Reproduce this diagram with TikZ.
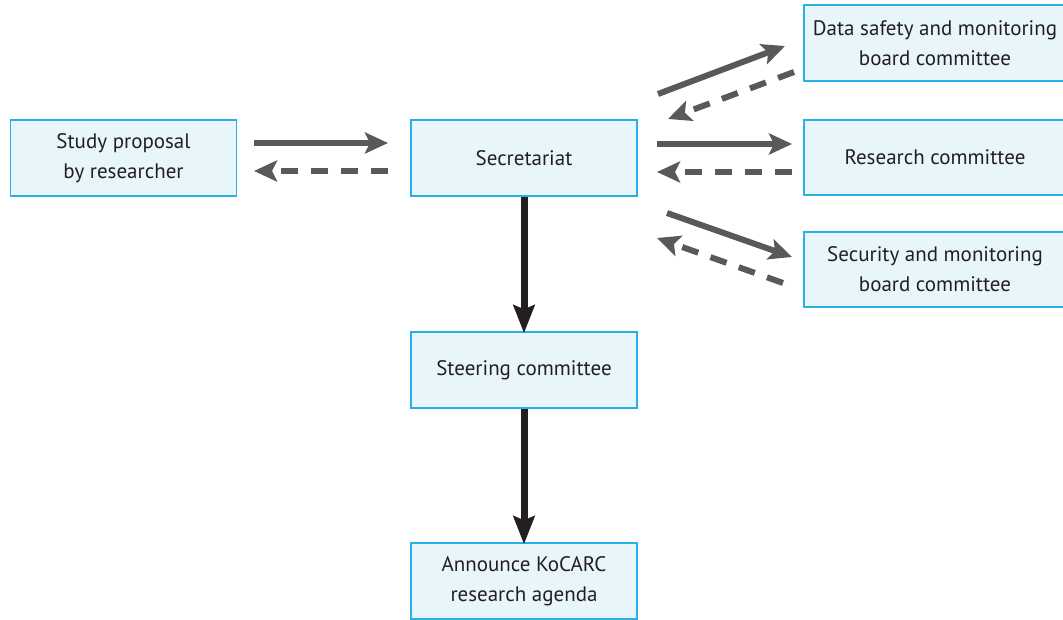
\documentclass[tikz,border=0pt]{standalone}
\usepackage{fontspec}
\setmainfont{PT Sans}
\usetikzlibrary{arrows.meta}
\definecolor{boxfill}{HTML}{E8F6FC}
\definecolor{boxline}{HTML}{29B0E6}
\definecolor{txt}{HTML}{231F20}
\definecolor{arrgray}{HTML}{58595B}
\definecolor{arrdark}{HTML}{231F20}
\tikzset{
  box/.style={draw=boxline, line width=1.5pt, fill=boxfill, text=txt, align=center,
    minimum width=226pt, minimum height=76pt, inner sep=0pt,
    font=\fontsize{21pt}{30pt}\selectfont},
  solidarr/.style={draw=arrgray, line width=6pt, -{Stealth[length=23pt,width=21pt,inset=5pt]}},
  dasharr/.style={draw=arrgray, line width=6pt, dash pattern=on 17pt off 13pt,
    -{Stealth[length=23pt,width=21pt,inset=5pt]}},
  downarr/.style={draw=arrdark, line width=7pt, -{Stealth[length=28pt,width=21pt,inset=4pt]}}
}
\begin{document}
\begin{tikzpicture}[x=1pt,y=-1pt]
\useasboundingbox (0,0) rectangle (1063,620);
\node[box] (study) at (123.5,158) {Study proposal\\by researcher};
\node[box] (sec) at (524,158) {Secretariat};
\node[box] (steer) at (524,370) {Steering committee};
\node[box] (ann) at (524,581) {Announce KoCARC\\research agenda};
\node[box, minimum width=262pt] (dsmb) at (935,43) {Data safety and monitoring\\board committee};
\node[box, minimum width=262pt, minimum height=75pt] (rc) at (935,157.5) {Research committee};
\node[box, minimum width=262pt, minimum height=75pt] (smb) at (935,269.5) {Security and monitoring\\board committee};

\coordinate (l1s) at (254,143); \coordinate (l1e) at (388,143);
\coordinate (l2s) at (388,171); \coordinate (l2e) at (254,171);
\coordinate (u1s) at (658,94); \coordinate (u1e) at (785,46);
\coordinate (u2s) at (794,72); \coordinate (u2e) at (668,119);
\coordinate (m1s) at (657,144); \coordinate (m1e) at (792,144);
\coordinate (m2s) at (792,172); \coordinate (m2e) at (657,172);
\coordinate (b1s) at (667,213); \coordinate (b1e) at (792,257);
\coordinate (b2s) at (783,283); \coordinate (b2e) at (657,238);

\draw[solidarr] (l1s) -- (l1e);
\draw[dasharr] (l2s) -- (l2e);
\draw[solidarr] (u1s) -- (u1e);
\draw[dasharr] (u2s) -- (u2e);
\draw[solidarr] (m1s) -- (m1e);
\draw[dasharr] (m2s) -- (m2e);
\draw[solidarr] (b1s) -- (b1e);
\draw[dasharr] (b2s) -- (b2e);
\draw[downarr] (sec.south) -- ([yshift=-2pt]steer.north);
\draw[downarr] (steer.south) -- ([yshift=-2pt]ann.north);
\end{tikzpicture}
\end{document}
